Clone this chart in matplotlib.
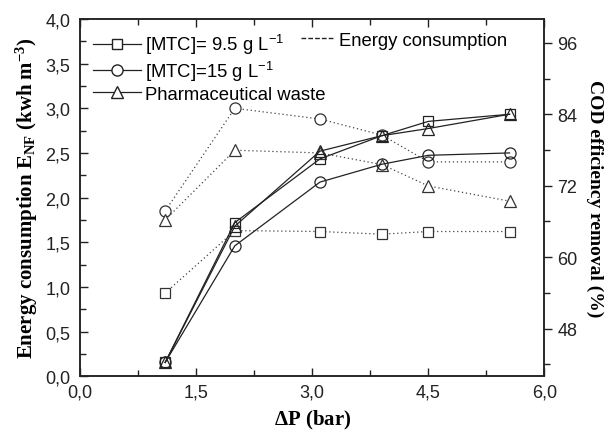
import numpy as np
import matplotlib
matplotlib.use('Agg')
from matplotlib import pyplot as plt
from matplotlib.lines import Line2D
from matplotlib.ticker import MultipleLocator, FuncFormatter

plt.rcParams['font.family'] = 'Liberation Sans'
plt.rcParams['mathtext.default'] = 'regular'

# transmembrane pressure (bar)
dp = [1.1, 2.0, 3.1, 3.9, 4.5, 5.55]

# energy consumption E_NF (kwh m-3), left axis
e_mtc95 = [0.93, 1.63, 1.62, 1.59, 1.62, 1.62]
e_mtc15 = [1.85, 3.00, 2.88, 2.70, 2.40, 2.40]
e_pharma = [1.75, 2.53, 2.50, 2.37, 2.13, 1.96]

# COD removal (%), right axis
cod_mtc95 = [42.3, 65.8, 76.5, 80.4, 82.8, 84.0]
cod_mtc15 = [42.3, 61.9, 72.6, 75.6, 77.1, 77.5]
cod_pharma = [42.3, 65.2, 77.8, 80.4, 81.6, 84.0]

labels = ['[MTC]= 9.5 g L$^{-1}$', '[MTC]=15 g L$^{-1}$', 'Pharmaceutical waste']
markers = ['s', 'o', '^']
msizes = [7.5, 8, 9]

comma = FuncFormatter(lambda v, p: ('%.1f' % v).replace('.', ','))

fig = plt.figure(figsize=(6.11, 4.35), dpi=100)
ax = fig.add_axes([0.131, 0.133, 0.760, 0.821])
ax2 = ax.twinx()

for e, m, ms in zip([e_mtc95, e_mtc15, e_pharma], markers, msizes):
    ax.plot(dp, e, ls=(0, (1, 2.2)), lw=0.9, color='#444444', marker=m, ms=ms,
            mfc='white', mec='#333333', mew=0.9)

for c, m, ms in zip([cod_mtc95, cod_mtc15, cod_pharma], markers, msizes):
    ax2.plot(dp, c, ls='-', lw=0.9, color='#222222', marker=m, ms=ms,
             mfc='none', mec='#222222', mew=0.9)

ax.set_xlim(0, 6)
ax.set_ylim(0, 4)
ax2.set_ylim(40, 100)

ax.xaxis.set_major_locator(MultipleLocator(1.5))
ax.xaxis.set_minor_locator(MultipleLocator(0.75))
ax.yaxis.set_major_locator(MultipleLocator(0.5))
ax.yaxis.set_minor_locator(MultipleLocator(0.25))
ax.xaxis.set_major_formatter(comma)
ax.yaxis.set_major_formatter(comma)
ax2.yaxis.set_major_locator(MultipleLocator(12))
ax2.yaxis.set_minor_locator(MultipleLocator(6))
ax2.set_yticks([48, 60, 72, 84, 96])

ax.tick_params(which='both', direction='in', top=True, labelsize=13, width=1, colors='#222222')
ax.tick_params(which='major', length=6)
ax.tick_params(which='minor', length=4)
ax.tick_params(axis='x', pad=5)
ax.tick_params(axis='y', pad=7)
ax2.tick_params(which='both', direction='out', labelsize=13, width=1, colors='#222222')
ax2.tick_params(which='major', length=6)
ax2.tick_params(which='minor', length=4)

for a in (ax, ax2):
    for s in a.spines.values():
        s.set_linewidth(1.1)
        s.set_color('#222222')

ax.set_xlabel(r'$\Delta$P (bar)', family='Liberation Serif', fontweight='bold', fontsize=15, labelpad=6)
ax.set_ylabel(r'Energy consumption E$_{\mathregular{NF}}$ (kwh m$^{\mathregular{-3}}$)',
              family='Liberation Serif', fontweight='bold', fontsize=15, labelpad=4)
ax2.set_ylabel('COD efficiency removal (%)', family='Liberation Serif', fontweight='bold',
               fontsize=14, rotation=-90, labelpad=18)

handles = [Line2D([], [], color='#222222', lw=0.9, marker=m, ms=ms, mfc='white', mec='#222222')
           for m, ms in zip(markers, msizes)]
leg = ax.legend(handles, labels, loc='upper left', bbox_to_anchor=(0.0, 1.0), frameon=False,
                fontsize=13.3, handlelength=2.6, handletextpad=0.2, labelspacing=0.15,
                borderaxespad=0.3)
ax.add_artist(leg)
ax.legend([Line2D([], [], color='#222222', lw=1.0, ls=(0, (3.4, 1.5)))], ['Energy consumption'],
          loc='upper left', bbox_to_anchor=(0.447, 1.0), frameon=False, fontsize=13.3,
          handlelength=1.8, handletextpad=0.3, borderaxespad=0.3)

fig.savefig('out.png', dpi=100)
